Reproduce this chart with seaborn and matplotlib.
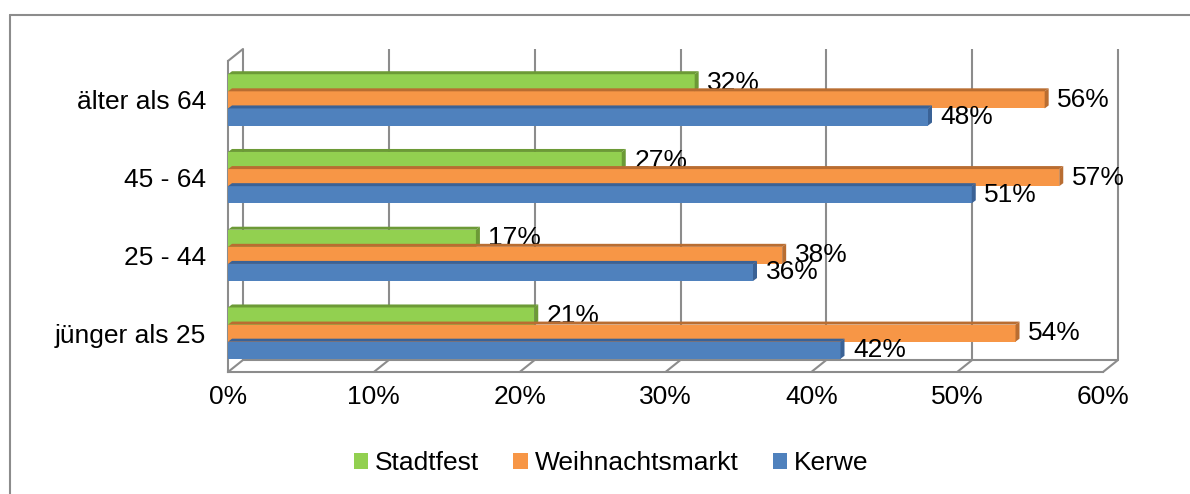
import numpy as np
import pandas as pd
import seaborn as sns
import matplotlib.pyplot as plt
from matplotlib.lines import Line2D
from matplotlib.patches import Polygon
from matplotlib.ticker import PercentFormatter
from matplotlib.transforms import ScaledTranslation

# Data (share of respondents per age group)
age_groups = ["älter als 64", "45 - 64", "25 - 44", "jünger als 25"]
festivals = ["Stadtfest", "Weihnachtsmarkt", "Kerwe"]
stadtfest = [32, 27, 17, 21]
weihnachtsmarkt = [56, 57, 38, 54]
kerwe = [48, 51, 36, 42]
x_ticks = [0, 10, 20, 30, 40, 50, 60]

colors = {"Stadtfest": "#92D050", "Weihnachtsmarkt": "#F79646", "Kerwe": "#4F81BD"}
dark = {"Stadtfest": "#6C9A36", "Weihnachtsmarkt": "#B96D31", "Kerwe": "#3A6296"}
grey = "#8C8C8C"

# long table for seaborn
df = pd.DataFrame({
    "Altersgruppe": age_groups * 3,
    "Fest": np.repeat(festivals, len(age_groups)),
    "Anteil": np.array(stadtfest + weihnachtsmarkt + kerwe) / 100,
})

sns.set_style("white")
plt.rcParams["font.family"] = ["Liberation Sans", "DejaVu Sans"]
plt.rcParams["font.size"] = 19
plt.rcParams["text.color"] = "black"
plt.rcParams["xtick.labelcolor"] = "black"
plt.rcParams["ytick.labelcolor"] = "black"

W, H = 1190, 494
fig = plt.figure(figsize=(W / 100, H / 100), dpi=100)
ax = fig.add_axes([228 / W, 122 / H, 875 / W, 311 / H])

sns.barplot(data=df, y="Altersgruppe", x="Anteil", hue="Fest", order=age_groups,
            hue_order=festivals, palette=colors, orient="h", width=0.66,
            saturation=1, linewidth=0, ax=ax, zorder=3)

ax.set_xlim(0, 0.6)
ax.set_ylim(len(age_groups) - 0.5, -0.5)
ax.set_xticks(np.array(x_ticks) / 100)
ax.xaxis.set_major_formatter(PercentFormatter(1.0, decimals=0))
ax.set_xlabel("")
ax.set_ylabel("")

# spines / ticks
sns.despine(ax=ax, top=True, right=True)
for s in ["left", "bottom"]:
    ax.spines[s].set_color(grey)
    ax.spines[s].set_linewidth(1.5)
ax.set_yticks(np.arange(-0.5, len(age_groups)), minor=True)
ax.tick_params(axis="y", which="major", length=0, pad=16, labelcolor="black")
ax.tick_params(axis="y", which="minor", length=4.5, width=1.5, color=grey, direction="out")
ax.tick_params(axis="x", which="major", length=4.5, width=1.5, color=grey, direction="out",
               pad=5, labelcolor="black")

# 3d back wall: shifted gridlines + connecting diagonals
off = ScaledTranslation(15 / 100, 12 / 100, fig.dpi_scale_trans)
xt = ax.get_xaxis_transform()
ax.vlines(np.array(x_ticks) / 100, 0, 1, transform=xt + off, color=grey, lw=1.5,
          zorder=1, clip_on=False)
ax.plot([0, 0.6], [0, 0], transform=xt + off, color=grey, lw=1.5, zorder=1, clip_on=False)
for t in x_ticks:
    ax.annotate("", xy=(t / 100, 0), xycoords=xt, xytext=(15 * 0.72, 12 * 0.72),
                textcoords="offset points",
                arrowprops=dict(arrowstyle="-", color=grey, lw=1.5, shrinkA=0, shrinkB=0))
ax.annotate("", xy=(0, 1), xycoords=xt, xytext=(15 * 0.72, 12 * 0.72),
            textcoords="offset points",
            arrowprops=dict(arrowstyle="-", color=grey, lw=1.5, shrinkA=0, shrinkB=0))

# 3d faces of the bars (top and right side), drawn behind the front faces
dx, dy = 4, 3
for cont, name in zip(ax.containers, festivals):
    for bar in cont:
        x0, y0 = bar.get_x(), bar.get_y()
        w, h = bar.get_width(), bar.get_height()
        (X0, Ya), (X1, Yb) = ax.transData.transform([(x0, y0), (x0 + w, y0 + h)])
        Yt, Ybot = max(Ya, Yb), min(Ya, Yb)
        top = Polygon([(X0, Yt), (X1, Yt), (X1 + dx, Yt + dy), (X0 + dx, Yt + dy)],
                      closed=True, transform=None, facecolor=dark[name], lw=0, zorder=2)
        side = Polygon([(X1, Ybot), (X1 + dx, Ybot + dy), (X1 + dx, Yt + dy), (X1, Yt)],
                       closed=True, transform=None, facecolor=dark[name], lw=0, zorder=2)
        fig.add_artist(top)
        fig.add_artist(side)

# value labels
for cont, vals in zip(ax.containers, [stadtfest, weihnachtsmarkt, kerwe]):
    ax.bar_label(cont, labels=[f"{v}%" for v in vals], padding=9, fontsize=19,
                 color="black", zorder=5)

# legend below the plot
handles, labels = ax.get_legend_handles_labels()
ax.get_legend().remove()
fig.legend(handles, labels, loc="center", bbox_to_anchor=(611 / W, 31 / H), ncol=3,
           frameon=False, handlelength=0.55, handleheight=0.55, handletextpad=0.25,
           columnspacing=1.3, fontsize=19, labelcolor="black")

# outer chart border (top and left edges visible)
fig.add_artist(Line2D([10 / W, 1], [1 - 15 / H, 1 - 15 / H], color=grey, lw=1.5,
                      transform=fig.transFigure))
fig.add_artist(Line2D([10 / W, 10 / W], [0, 1 - 15 / H], color=grey, lw=1.5,
                      transform=fig.transFigure))

fig.savefig("out.png", dpi=100)
